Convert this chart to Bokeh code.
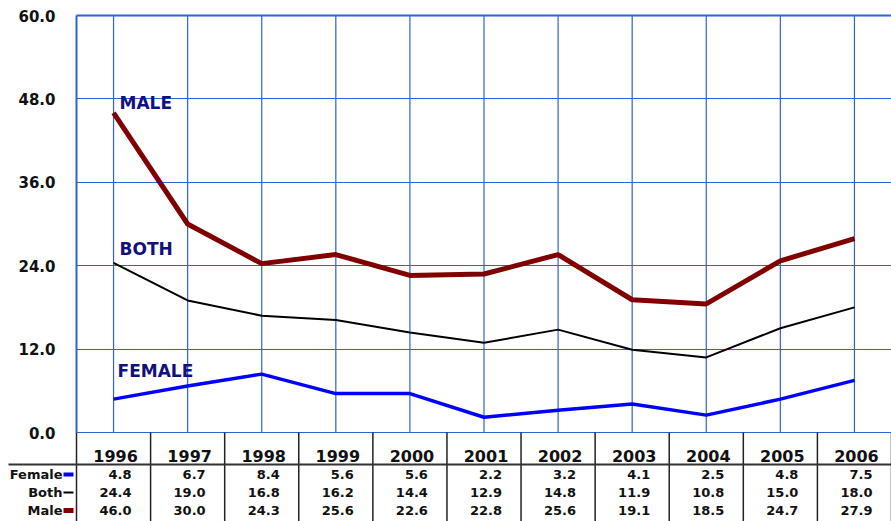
from bokeh.plotting import figure
from bokeh.models import Range1d, FixedTicker, NumeralTickFormatter
from bokeh.core.properties import value
from bokeh.embed import file_html
from bokeh.resources import INLINE

years = ["1996", "1997", "1998", "1999", "2000", "2001", "2002", "2003", "2004", "2005", "2006"]
female = [4.8, 6.7, 8.4, 5.6, 5.6, 2.2, 3.2, 4.1, 2.5, 4.8, 7.5]
both = [24.4, 19.0, 16.8, 16.2, 14.4, 12.9, 14.8, 11.9, 10.8, 15.0, 18.0]
male = [46.0, 30.0, 24.3, 25.6, 22.6, 22.8, 25.6, 19.1, 18.5, 24.7, 27.9]
series_names = ["Female", "Both", "Male"]
series_labels = ["FEMALE", "BOTH", "MALE"]
y_ticks = [0, 12, 24, 36, 48, 60]

FONT = "DejaVu Sans"
GRID = "#2f62d6"
NAVY = "#10107f"
TXT = "#111111"
colors = ["#0000ff", "#000000", "#800000"]
widths = [3.5, 2, 5]
series = [female, both, male]

# layout constants (pixels)
W, H = 891, 521
LEFT, TOP = 76, 15
CHART_H = 417          # pixel height of the 0..60 chart area
TABLE_H = H - TOP - CHART_H
y_top = y_ticks[-1]
px_per_y = CHART_H / y_top
y_min = -TABLE_H / px_per_y
n = len(years)
px_per_x = (W - LEFT) / n

p = figure(width=W, height=H, x_range=Range1d(0, n), y_range=Range1d(y_min, y_top),
           output_backend="svg", toolbar_location=None, x_axis_location=None,
           min_border_left=LEFT, min_border_right=0, min_border_top=TOP, min_border_bottom=0)
p.outline_line_color = None
p.xgrid.visible = False
p.ygrid.grid_line_color = GRID
p.ygrid.grid_line_width = 1.2
p.yaxis.ticker = FixedTicker(ticks=y_ticks)
p.yaxis.formatter = NumeralTickFormatter(format="0.0")
p.yaxis.major_label_text_font = FONT
p.yaxis.major_label_text_font_style = "bold"
p.yaxis.major_label_text_font_size = "15px"
p.yaxis.major_label_text_color = TXT
p.yaxis.major_tick_line_color = None
p.yaxis.minor_tick_line_color = None
p.yaxis.axis_line_color = None
p.yaxis.major_label_standoff = 15

centers = [i + 0.5 for i in range(n)]
bounds = list(range(n + 1))

# vertical chart grid at each year
p.segment(x0=centers, x1=centers, y0=0, y1=y_top, line_color=GRID, line_width=1.2)
# chart border: top and left
p.segment(x0=[0, 0], x1=[n, 0], y0=[y_top, 0], y1=[y_top, y_top], line_color=GRID,
          line_width=2, level="overlay")

for s, c, w in zip(series, colors, widths):
    p.line(centers, s, line_color=c, line_width=w)

p.text(x=[centers[0]] * 3, y=[s[0] for s in series], text=series_labels,
       x_offset=[4, 6, 6], y_offset=[-28, -14, -10],
       text_align="left", text_baseline="middle", text_color=NAVY,
       text_font=value(FONT), text_font_style="bold", text_font_size="17px")

# ---------------- table under the chart ----------------
label_col = LEFT - 8
p.segment(x0=bounds, x1=bounds, y0=0, y1=y_min, line_color="#222222", line_width=1.5,
          level="overlay")
hy = -32 / px_per_y
p.segment(x0=[-label_col / px_per_x], x1=[n], y0=hy, y1=hy, line_color="#333333",
          line_width=2, level="overlay")

p.text(x=centers, y=0, text=years, text_align="center", text_baseline="middle",
       x_offset=2, y_offset=23, text_color=TXT,
       text_font=value(FONT), text_font_style="bold", text_font_size="16px")

row_off = [42, 60, 78]
for s, ro in zip(series, row_off):
    p.text(x=centers, y=0, text=[f"{v:.1f}" for v in s], text_align="right",
           text_baseline="middle", x_offset=18, y_offset=ro, text_color=TXT,
           text_font=value(FONT), text_font_style="bold", text_font_size="13px")

p.text(x=[0] * 3, y=0, text=series_names, text_align="right", text_baseline="middle",
       x_offset=-14, y_offset=row_off, text_color=TXT,
       text_font=value(FONT), text_font_style="bold", text_font_size="13px", level="overlay")
p.rect(x=[-8 / px_per_x] * 3, y=[-ro / px_per_y for ro in row_off], width=10,
       height=[4, 2, 5], width_units="screen", height_units="screen",
       fill_color=colors, line_color=None, level="overlay")

open("out.html", "w").write(file_html(p, INLINE))
